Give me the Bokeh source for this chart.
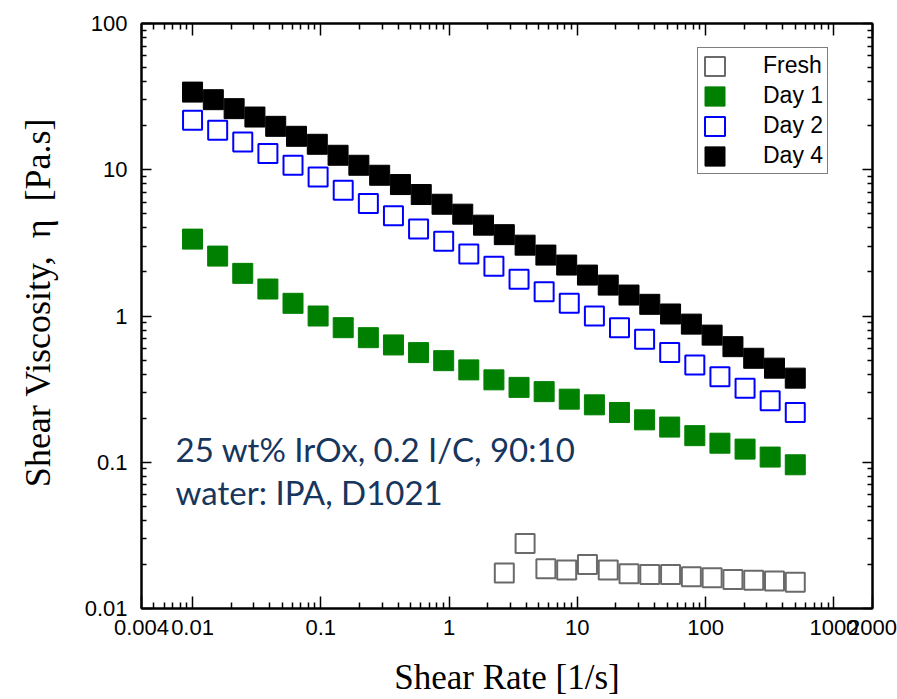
import math
from bokeh.plotting import figure
from bokeh.models import (FixedTicker, Label, Legend, LegendItem, LogAxis,
                          ColumnDataSource, Range1d)
from bokeh.embed import file_html
from bokeh.resources import INLINE

# ---------------- data ----------------
rate_day4 = [0.01, 0.01452, 0.02110, 0.03064, 0.04450, 0.06463, 0.09387, 0.1363,
             0.1980, 0.2876, 0.4177, 0.6067, 0.8812, 1.278, 1.856, 2.695, 3.914,
             5.685, 8.257, 11.99, 17.41, 25.28, 36.71, 53.30, 77.42, 112.4, 163.3,
             237.1, 344.3, 500.0]
visc_day4 = [33.96, 30.14, 26.17, 22.93, 19.81, 16.93, 14.93, 12.56, 10.73, 9.17,
             7.92, 6.77, 5.81, 4.97, 4.18, 3.60, 3.05, 2.61, 2.23, 1.905, 1.627,
             1.391, 1.202, 1.032, 0.88, 0.74, 0.617, 0.514, 0.440, 0.376]

rate_day12 = [0.01, 0.01570, 0.02463, 0.03868, 0.06070, 0.09527, 0.1495, 0.2348,
              0.3684, 0.5783, 0.9075, 1.425, 2.236, 3.511, 5.510, 8.649, 13.58,
              21.31, 33.44, 52.48, 82.37, 129.3, 203.0, 318.6, 500.0]
visc_day1 = [3.355, 2.568, 1.957, 1.529, 1.221, 1.000, 0.832, 0.711, 0.634, 0.562,
             0.495, 0.428, 0.366, 0.325, 0.304, 0.270, 0.247, 0.219, 0.195, 0.174,
             0.152, 0.135, 0.123, 0.1085, 0.0961]
visc_day2 = [21.77, 18.61, 15.48, 12.90, 10.73, 8.93, 7.25, 5.88, 4.84, 3.93, 3.25,
             2.65, 2.19, 1.783, 1.465, 1.221, 1.000, 0.832, 0.693, 0.562, 0.463,
             0.385, 0.321, 0.263, 0.219]

rate_fresh = [2.695, 3.914, 5.685, 8.257, 11.99, 17.41, 25.28, 36.71, 53.30, 77.42,
              112.4, 163.3, 237.1, 344.3, 500.0]
visc_fresh = [0.0175, 0.0278, 0.0187, 0.0183, 0.0200, 0.0183, 0.0173, 0.0171,
              0.0171, 0.0165, 0.0162, 0.0158, 0.0156, 0.0154, 0.0151]

series_names = ["Fresh", "Day 1", "Day 2", "Day 4"]

x_ticks = [0.004, 0.01, 0.1, 1, 10, 100, 1000, 2000]
x_tick_labels = ["0.004", "0.01", "0.1", "1", "10", "100", "1000", "2000"]
y_ticks = [0.01, 0.1, 1, 10, 100]
y_tick_labels = ["0.01", "0.1", "1", "10", "100"]

note_line1 = "25 wt% IrOx, 0.2 I/C, 90:10"
note_line2 = "water: IPA, D1021"
x_title = "Shear Rate [1/s]"
NB = "\u00a0"
y_title = NB * 3 + "Shear Viscosity," + NB + " \u03b7" + NB + " [Pa.s]"

# ---------------- figure ----------------
p = figure(width=897, height=699, x_axis_type="log", y_axis_type="log",
           x_range=Range1d(0.004, 2000), y_range=Range1d(0.01, 100),
           output_backend="svg", toolbar_location=None,
           min_border_left=141, min_border_right=25, min_border_top=23,
           min_border_bottom=90)
p.xgrid.visible = False
p.ygrid.visible = False
p.outline_line_color = "black"
p.outline_line_width = 2
p.background_fill_color = "white"
p.border_fill_color = "white"

x_minor = [m * 10.0 ** e for e in range(-3, 3) for m in range(2, 10)]
x_minor = [v for v in x_minor if 0.004 < v < 1000]
y_minor = [m * 10.0 ** e for e in range(-2, 2) for m in range(2, 10)]


def style_axis(ax, ticks, minor, major_len, minor_len, labels):
    ax.ticker = FixedTicker(ticks=ticks, minor_ticks=minor)
    ax.major_tick_in = major_len
    ax.major_tick_out = 0
    ax.minor_tick_in = minor_len
    ax.minor_tick_out = 0
    ax.major_tick_line_width = 1.5
    ax.minor_tick_line_width = 1.5
    ax.major_tick_line_color = "black"
    ax.minor_tick_line_color = "black"
    ax.axis_line_width = 2
    ax.axis_line_color = "black"
    ax.major_label_overrides = {t: l for t, l in zip(ticks, labels)}
    ax.major_label_text_font = "Liberation Sans"
    ax.major_label_text_font_size = "22px"
    ax.major_label_text_color = "black"


xa = p.xaxis[0]
style_axis(xa, x_ticks, x_minor, 12, 6, x_tick_labels)
xa.major_label_standoff = 11
xa.axis_label = x_title
xa.axis_label_text_font = "Liberation Serif"
xa.axis_label_text_font_size = "35px"
xa.axis_label_text_font_style = "normal"
xa.axis_label_text_color = "black"
xa.axis_label_standoff = 20

ya = p.yaxis[0]
style_axis(ya, y_ticks, y_minor, 10, 5, y_tick_labels)
ya.major_label_standoff = 14
ya.axis_label = y_title
ya.axis_label_text_font = "Liberation Serif"
ya.axis_label_text_font_size = "36px"
ya.axis_label_text_font_style = "normal"
ya.axis_label_text_color = "black"
ya.axis_label_standoff = 24

top = LogAxis()
style_axis(top, x_ticks, x_minor, 12, 6, [""] * len(x_ticks))
top.major_label_standoff = 0
p.add_layout(top, "above")
right = LogAxis()
style_axis(right, y_ticks, y_minor, 10, 5, [""] * len(y_ticks))
right.major_label_standoff = 0
p.add_layout(right, "right")

# ---------------- data glyphs ----------------
common = dict(width_units="screen", height_units="screen")
r_fresh = p.rect(x="x", y="y", source=ColumnDataSource(dict(x=rate_fresh, y=visc_fresh)),
                 width=19, height=19, fill_alpha=0, line_color="#6a6a6a",
                 line_width=2, **common)
r_day1 = p.rect(x="x", y="y", source=ColumnDataSource(dict(x=rate_day12, y=visc_day1)),
                width=20, height=20, fill_color="#008000", line_color="#008000",
                line_width=1, **common)
r_day2 = p.rect(x="x", y="y", source=ColumnDataSource(dict(x=rate_day12, y=visc_day2)),
                width=19, height=19, fill_alpha=0, line_color="#0000ff",
                line_width=2, **common)
r_day4 = p.rect(x="x", y="y", source=ColumnDataSource(dict(x=rate_day4, y=visc_day4)),
                width=20, height=20, fill_color="black", line_color="black",
                line_width=1, **common)

legend = Legend(items=[LegendItem(label=n, renderers=[r])
                       for n, r in zip(series_names, [r_fresh, r_day1, r_day2, r_day4])],
                location=(556, 434), orientation="vertical",
                border_line_color="black", border_line_width=1.5,
                background_fill_color="white", background_fill_alpha=1,
                padding=4, spacing=3, margin=0,
                glyph_width=25, glyph_height=24, label_height=24,
                label_standoff=36, label_text_font="Liberation Sans",
                label_text_font_size="23px", label_text_color="black")
p.add_layout(legend)

# ---------------- texts ----------------
p.add_layout(Label(x=0.00738, y=0.1223, text=note_line1, text_font="Lato",
                   text_font_size="33px", text_color="#17365D",
                   text_baseline="alphabetic", text_align="left"))
p.add_layout(Label(x=0.00738, y=0.0629, text=note_line2, text_font="Lato",
                   text_font_size="33px", text_color="#17365D",
                   text_baseline="alphabetic", text_align="left"))

open("out.html", "w").write(file_html(p, INLINE))
